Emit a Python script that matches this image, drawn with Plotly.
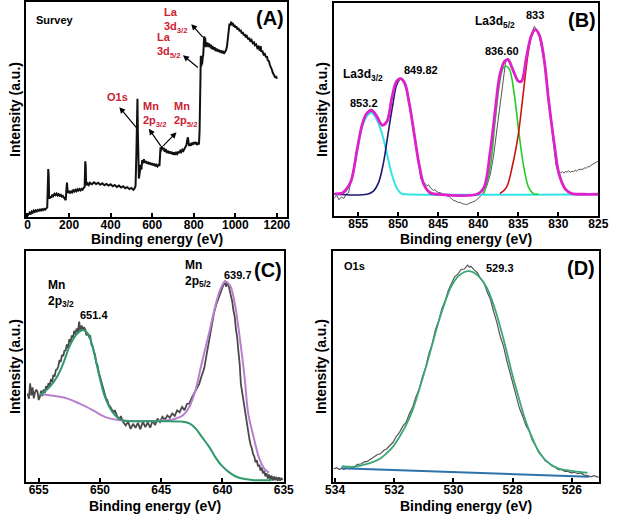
import plotly.graph_objects as go

# ---------------- Panel A: survey ----------------
survey_ev = [0, 5, 10, 15, 20, 25, 30, 35, 40, 45, 50, 55, 60, 65, 70, 75, 80, 85, 90, 95, 98, 100, 102, 104, 106,
             110, 115, 120, 125, 130, 135, 140, 145, 150, 155, 160, 165, 170, 175, 180, 184, 187, 190, 192, 195,
             200, 205, 210, 215, 220, 225, 230, 235, 240, 245, 250, 255, 260, 265, 270, 275, 278, 280, 282, 285,
             290, 295, 300, 310, 320, 330, 340, 350, 360, 370, 380, 390, 400, 410, 420, 430, 440, 450, 460, 470,
             480, 490, 500, 510, 515, 520, 524, 527, 529, 531, 533, 536, 540, 544, 548, 552, 556, 560, 565, 570,
             575, 580, 585, 590, 595, 600, 605, 610, 615, 620, 625, 630, 635, 638, 640, 643, 646, 650, 655, 660,
             665, 670, 675, 680, 685, 690, 695, 700, 705, 710, 715, 720, 725, 730, 735, 740, 745, 750, 755, 760,
             765, 768, 772, 775, 778, 782, 786, 790, 795, 800, 805, 810, 815, 820, 825, 828, 830, 832, 834, 836,
             838, 840, 843, 846, 848, 850, 852, 855, 858, 861, 865, 870, 874, 878, 882, 886, 890, 895, 900, 905,
             910, 915, 920, 925, 930, 935, 940, 945, 950, 955, 960, 965, 968, 972, 976, 980, 984, 988, 992, 996,
             1000, 1005, 1010, 1015, 1020, 1025, 1031, 1036, 1040, 1045, 1050, 1055, 1062, 1068, 1072, 1078, 1084,
             1090, 1094, 1100, 1106, 1112, 1118, 1122, 1125, 1130, 1136, 1142, 1148, 1152, 1156, 1162, 1166, 1172,
             1176, 1180, 1185, 1188, 1192, 1196, 1200]
survey_int = [0.5, 1.5, 2.0, 1.2, 2.5, 2.0, 3.0, 2.4, 3.1, 2.6, 3.3, 2.9, 3.5, 3.0, 3.6, 3.2, 3.8, 3.4, 4.2, 4.5, 15.0, 22.3, 19.0, 9.5, 8.5,
              9.6, 9.0, 10.4, 9.8, 10.8, 10.2, 10.9, 10.0, 10.6, 9.9, 10.3, 9.5, 9.8, 8.9, 8.2, 7.8, 12.5, 16.0, 13.0, 11.2,
              11.8, 11.0, 12.2, 11.5, 12.4, 11.8, 12.6, 12.0, 12.9, 12.3, 13.0, 12.4, 13.1, 12.7, 13.5, 14.0, 25.9, 24.0, 16.0, 14.8,
              15.6, 14.9, 15.9, 15.2, 16.1, 15.3, 15.9, 15.0, 15.7, 14.8, 15.4, 14.6, 15.2, 14.3, 14.9, 14.0, 14.6, 13.7, 14.3, 13.4,
              13.9, 13.0, 13.5, 12.6, 13.2, 14.5, 30.0, 48.0, 55.0, 40.0, 22.0, 17.9, 20.5, 24.2, 22.0, 26.5, 25.0, 26.9, 25.2, 26.0,
              24.8, 25.6, 24.5, 25.3, 24.2, 25.0, 24.0, 24.8, 23.6, 24.3, 23.5, 24.2, 23.8, 31.0, 32.4, 30.5, 33.0, 31.5, 32.2, 30.4,
              31.6, 29.8, 30.9, 29.6, 30.5, 29.4, 30.3, 29.0, 30.1, 28.9, 29.9, 29.3, 30.4, 29.7, 30.8, 30.2, 31.3, 30.7, 31.9, 32.4,
              33.5, 35.5, 37.1, 34.5, 33.0, 34.2, 33.1, 34.5, 33.6, 34.8, 33.9, 34.9, 33.5, 34.3, 33.8, 40.0, 52.0, 64.0, 75.0, 70.0,
              72.0, 71.0, 74.0, 76.0, 80.0, 84.0, 82.0, 83.5, 79.0, 80.5, 81.2, 79.0, 80.7, 78.9, 80.2, 78.1, 79.5, 77.8, 79.0, 77.2,
              78.3, 77.0, 77.9, 76.6, 77.5, 76.2, 77.3, 76.0, 76.8, 77.5, 79.5, 83.0, 87.0, 90.0, 89.0, 90.8, 89.3, 90.2, 88.6, 89.4,
              88.0, 88.7, 87.3, 87.9, 86.4, 87.0, 85.4, 86.0, 84.5, 85.1, 83.6, 84.2, 82.8, 83.0, 81.6, 82.3, 80.8,
              81.2, 79.9, 80.3, 78.6, 79.2, 77.3, 79.5, 76.8, 77.4, 75.6, 75.9, 74.2, 74.8, 72.9, 72.4, 70.8, 69.8,
              68.5, 67.2, 66.4, 65.9, 64.8, 65.5, 64.3]

# ---------------- Panel B: La 3d ----------------
b_raw_ev = [858.0, 857.7, 857.4, 857.1, 856.8, 856.5, 856.2, 855.9, 855.5, 855.1, 854.7, 854.3, 853.9, 853.5, 853.2, 852.9,
            852.6, 852.3, 852.0, 851.7, 851.4, 851.1, 850.8, 850.5, 850.2, 849.9, 849.6, 849.3, 849.0, 848.6, 848.3, 848.0,
            847.7, 847.4, 847.2, 847.0, 846.8, 846.6, 846.4, 846.2, 846.0, 845.8, 845.6, 845.4, 845.2, 845.0, 844.7, 844.4,
            844.1, 843.9, 843.6, 843.3, 843.1, 842.8, 842.5, 842.3, 842.0, 841.7, 841.5, 841.2, 841.0, 840.7, 840.4, 840.1,
            839.8, 839.5, 839.2, 838.9, 838.5, 838.1, 837.8, 837.5, 837.2, 836.9, 836.6, 836.3, 836.0, 835.7, 835.4, 835.1,
            834.8, 834.5, 834.2, 833.9, 833.6, 833.3, 833.0, 832.7, 832.4, 832.1, 831.8, 831.5, 831.2, 830.9, 830.6, 830.3,
            830.1, 829.9, 829.7, 829.5, 829.3, 829.1, 828.9, 828.7, 828.5, 828.3, 828.1, 827.9, 827.7, 827.5, 827.3, 827.1,
            826.9, 826.7, 826.5, 826.3, 826.1, 825.9, 825.7, 825.5, 825.2, 825.0]
b_raw_int = [8.5, 9.6, 7.6, 9.0, 8.2, 10.3, 11.0, 16.0, 24.0, 32.5, 40.0, 45.5, 48.5, 50.2, 50.0, 48.0,
             45.5, 43.8, 42.0, 43.3, 45.0, 50.0, 55.5, 60.0, 63.0, 64.8, 64.0, 62.5, 59.0, 52.0, 45.5, 38.0,
             31.0, 24.5, 17.5, 16.8, 15.8, 15.0, 14.2, 14.6, 13.3, 12.8, 12.0, 12.4, 11.4, 11.1, 10.9, 10.2,
             10.0, 9.4, 9.0, 8.0, 7.3, 7.0, 6.3, 6.5, 5.8, 5.6, 5.3, 5.8, 6.2, 6.6, 7.0, 7.8,
             9.0, 10.3, 12.0, 14.5, 19.5, 28.0, 37.0, 46.0, 55.0, 65.0, 72.0, 74.2, 72.5, 69.0, 65.5, 63.2,
             62.6, 64.5, 69.0, 76.0, 82.0, 86.0, 89.0, 87.5, 84.5, 79.0, 73.0, 64.0, 54.0, 43.0, 33.0, 24.0,
             21.5, 21.0, 20.2, 20.9, 20.1, 20.9, 20.6, 21.3, 20.5, 21.0, 20.8, 21.5, 21.0, 21.8, 21.9, 22.2,
             22.0, 22.6, 22.5, 23.2, 23.0, 23.9, 24.4, 24.6, 25.3, 25.8]

b_env_ev = [858.0, 857.0, 856.5, 855.9, 855.1, 854.5, 853.9, 853.3, 852.7, 852.0, 851.4, 850.8, 850.2, 849.7, 849.2,
            848.6, 848.0, 847.4, 846.8, 846.0, 845.0, 840.1, 839.3, 838.5, 837.9, 837.3, 836.7, 836.3, 835.7, 835.0,
            834.6, 834.0, 833.4, 832.9, 832.4, 831.8, 831.2, 830.5, 829.9, 829.1, 828.3, 827.0, 825.0]
b_env_int = [10.4, 10.8, 12.5, 16.4, 32.0, 43.0, 48.4, 49.5, 46.9, 42.7, 44.5, 55.5, 63.3, 64.5, 62.5,
             52.3, 38.3, 24.2, 14.8, 10.9, 10.2, 10.3, 13.3, 30.5, 49.2, 66.4, 72.7, 73.4, 68.8, 63.3,
             63.3, 74.2, 84.4, 87.5, 85.2, 74.2, 53.9, 33.6, 19.5, 12.5, 10.5, 10.2, 10.2]

b_cyan_ev = [858.0, 857.0, 856.5, 855.9, 855.1, 854.5, 853.8, 853.3, 852.7, 852.0, 851.4, 850.8, 850.2, 849.6, 849.0, 825.0]
b_cyan_int = [10.2, 10.4, 12.0, 16.0, 31.5, 42.0, 47.5, 48.5, 45.3, 38.3, 29.0, 19.5, 13.3, 10.5, 10.2, 10.2]

b_navy_ev = [858.0, 853.9, 853.1, 852.5, 851.9, 851.3, 850.7, 850.2, 849.7, 849.2, 848.6, 848.0, 847.4, 846.8, 846.0, 845.0]
b_navy_int = [10.2, 10.2, 11.7, 15.3, 24.0, 38.0, 52.0, 61.5, 64.5, 62.5, 52.3, 38.3, 24.2, 14.8, 10.5, 10.2]

b_green_ev = [839.3, 838.5, 837.9, 837.3, 836.9, 836.5, 836.1, 835.5, 834.9, 834.3, 833.7, 833.1, 832.5]
b_green_int = [10.5, 22.7, 44.5, 63.3, 69.5, 70.3, 68.8, 57.0, 38.3, 22.7, 13.3, 10.5, 10.2]

b_red_ev = [837.3, 836.5, 835.7, 835.0, 834.4, 833.8, 833.3, 832.9, 832.4, 831.8, 831.2, 830.5, 829.9, 829.1, 828.3]
b_red_int = [10.5, 13.3, 24.2, 38.3, 57.0, 75.8, 85.2, 87.5, 85.2, 74.2, 53.9, 33.6, 19.5, 12.5, 10.5]

# ---------------- Panel C: Mn 2p ----------------
c_raw_ev = [655.9, 655.8, 655.7, 655.6, 655.5, 655.4, 655.3, 655.2, 655.1, 655.0, 654.9, 654.8, 654.7, 654.6, 654.5,
            654.4, 654.3, 654.2, 654.1, 654.0, 653.9, 653.8, 653.7, 653.6, 653.5, 653.4, 653.3, 653.2, 653.1, 653.0,
            652.9, 652.8, 652.7, 652.6, 652.5, 652.4, 652.3, 652.2, 652.1, 652.0, 651.9, 651.8, 651.7, 651.6, 651.5,
            651.4, 651.3, 651.2, 651.1, 651.0, 650.9, 650.8, 650.7, 650.6, 650.5, 650.4, 650.3, 650.2, 650.1, 650.0,
            649.9, 649.8, 649.7, 649.6, 649.5, 649.4, 649.3, 649.1, 648.9, 648.8, 648.6, 648.4, 648.3, 648.1, 647.9,
            647.7, 647.5, 647.3, 647.1, 646.9, 646.7, 646.5, 646.3, 646.1, 645.9, 645.7, 645.5, 645.3, 645.1, 644.9,
            644.7, 644.5, 644.3, 644.1, 643.9, 643.7, 643.5, 643.3, 643.1, 642.9, 642.7, 642.5, 642.3, 642.1, 641.9,
            641.7, 641.5, 641.3, 641.1, 640.9, 640.7, 640.5, 640.3, 640.1, 639.9, 639.8, 639.7, 639.6, 639.5, 639.4,
            639.3, 639.2, 639.1, 639.0, 638.9, 638.8, 638.7, 638.6, 638.5, 638.4, 638.3, 638.2, 638.1, 638.0, 637.9,
            637.8, 637.7, 637.6, 637.5, 637.4, 637.3, 637.2, 637.1, 637.0, 636.9, 636.8, 636.7, 636.6, 636.5, 636.4,
            636.3, 636.2, 636.1, 636.0, 635.9, 635.8, 635.7, 635.6, 635.5, 635.4, 635.3, 635.2, 635.1]
c_raw_int = [38.3, 36.0, 42.7, 37.5, 41.0, 36.2, 38.8, 40.0, 39.1, 35.5, 36.9, 39.5, 37.2, 40.0, 38.5,
             41.5, 40.2, 42.8, 41.6, 44.5, 43.4, 46.5, 45.6, 48.5, 48.8, 50.0, 52.8, 52.0, 55.0, 54.5,
             56.8, 57.0, 59.5, 58.0, 61.8, 60.5, 63.5, 62.5, 65.5, 64.0, 66.5, 64.8, 69.4, 65.0, 67.8,
             65.8, 67.0, 66.0, 63.5, 64.3, 62.9, 63.5, 59.5, 58.8, 56.5, 55.0, 51.5, 50.5, 47.5, 45.6,
             44.0, 41.2, 40.0, 38.3, 36.0, 35.5, 33.5, 32.0, 30.0, 31.1, 28.5, 27.0, 28.5, 25.8, 24.5,
             26.1, 23.0, 25.2, 23.5, 25.6, 22.8, 26.1, 23.8, 25.8, 23.5, 26.5, 24.6, 27.5, 26.0, 28.2,
             27.0, 28.8, 27.8, 29.7, 28.6, 31.0, 30.2, 32.5, 31.1, 33.8, 34.0, 36.5, 38.3, 40.5, 42.5,
             46.0, 49.0, 55.0, 61.0, 68.0, 73.0, 77.0, 80.0, 83.0, 85.5, 87.1, 84.5, 86.5, 85.0, 83.0,
             80.2, 78.0, 74.0, 71.5, 66.0, 62.5, 56.5, 51.3, 42.5, 39.0, 35.0, 31.0, 27.5, 23.5, 21.0,
             18.5, 16.0, 14.5, 12.0, 11.0, 8.5, 9.5, 6.8, 7.5, 5.0, 6.2, 3.8, 4.8, 2.5, 3.8,
             1.5, 3.2, 1.0, 2.8, 0.6, 2.4, 0.8, 2.2, 0.5, 2.0, 0.6, 1.8, 0.8]

c_green_ev = [654.9, 654.1, 653.5, 653.0, 652.5, 651.96, 651.4, 651.0, 650.6, 650.1, 649.6, 649.0, 648.5, 648.0,
              646.0, 643.2, 642.7, 642.2, 641.7, 641.1, 640.6, 640.1, 639.5, 639.0, 638.5, 637.4, 636.3, 636.0]
c_green_int = [37.6, 41.2, 45.6, 51.3, 58.5, 63.6, 65.8, 64.3, 58.5, 47.0, 36.9, 30.4, 27.5, 26.5,
               26.3, 26.1, 25.4, 23.2, 19.6, 15.3, 10.9, 7.3, 4.4, 2.6, 1.6, 0.8, 0.8, 0.8]

c_purple_ev = [654.9, 653.8, 652.7, 651.7, 650.6, 649.6, 648.5, 647.5, 645.9, 644.3, 643.8, 643.2, 642.7, 642.2,
               641.7, 641.1, 640.6, 640.2, 639.8, 639.4, 639.0, 638.6, 638.2, 637.9, 637.4, 637.0, 636.6, 636.2]
c_purple_int = [38.1, 37.3, 36.2, 34.0, 31.1, 28.2, 26.8, 26.4, 26.4, 26.8, 27.5, 29.0, 32.6, 39.8,
                51.3, 64.3, 75.9, 83.1, 86.7, 85.2, 77.3, 62.9, 45.6, 29.7, 18.1, 10.2, 5.9, 4.0]

# ---------------- Panel D: O 1s ----------------
d_raw_ev = [534.05, 533.95, 533.85, 533.78, 533.7, 533.6, 533.5, 533.45, 533.35, 533.25, 533.13, 533.0, 532.91, 532.8,
            532.69, 532.58, 532.47, 532.36, 532.26, 532.15, 532.04, 531.93, 531.82, 531.71, 531.6, 531.49, 531.38, 531.27,
            531.16, 531.05, 530.94, 530.83, 530.72, 530.61, 530.5, 530.39, 530.28, 530.17, 530.07, 529.96, 529.85, 529.74,
            529.63, 529.55, 529.52, 529.46, 529.41, 529.3, 529.19, 529.08, 528.97, 528.86, 528.75, 528.64, 528.53, 528.42,
            528.31, 528.2, 528.1, 527.99, 527.88, 527.77, 527.66, 527.55, 527.44, 527.33, 527.22, 527.11, 527.0, 526.89,
            526.78, 526.67, 526.56, 526.46, 526.35, 526.24, 526.13, 526.02, 525.91, 525.8, 525.69, 525.58, 525.47, 525.36,
            525.25, 525.15, 525.09]
d_raw_int = [5.6, 6.2, 5.4, 6.0, 5.5, 6.1, 5.7, 6.5, 6.3, 7.6, 7.8, 8.7, 8.9, 10.0,
             10.7, 11.8, 12.2, 13.6, 14.3, 16.0, 17.2, 19.8, 21.5, 24.2, 25.8, 29.5, 32.3, 36.8,
             40.2, 45.5, 49.6, 55.5, 59.7, 65.8, 69.8, 75.0, 78.5, 83.0, 85.7, 88.8, 90.0, 92.0,
             92.2, 93.7, 93.9, 93.0, 93.4, 91.8, 90.6, 88.0, 86.3, 82.2, 79.1, 73.7, 69.0, 63.1,
             58.8, 52.7, 48.0, 42.0, 37.2, 32.0, 28.5, 24.5, 22.1, 18.0, 15.6, 12.6, 11.2, 9.1,
             8.3, 6.9, 6.5, 5.4, 5.4, 4.6, 4.6, 4.0, 4.2, 3.6, 3.9, 3.0, 2.8, 2.2,
             2.7, 2.1, 2.0]

d_fit_ev = [533.78, 533.35, 532.91, 532.69, 532.47, 532.26, 532.04, 531.82, 531.6, 531.38, 531.16, 530.94, 530.72,
            530.5, 530.28, 530.07, 529.85, 529.63, 529.46, 529.3, 529.08, 528.86, 528.64, 528.42, 528.2, 527.99, 527.77,
            527.55, 527.33, 527.11, 526.89, 526.67, 526.46, 526.24, 525.91, 525.47]
d_fit_int = [6.9, 6.6, 7.8, 8.8, 10.2, 12.4, 15.3, 19.6, 24.6, 31.1, 39.8, 49.2, 59.3,
             69.4, 78.0, 84.8, 88.9, 90.9, 91.3, 90.6, 88.1, 83.8, 76.6, 67.2, 56.4, 45.6, 35.5,
             26.1, 18.9, 13.1, 9.5, 7.3, 5.9, 5.2, 4.6, 4.0]

d_base_ev = [533.78, 525.42]
d_base_int = [5.9, 2.3]

# ---------------- figure ----------------
FONT = "Liberation Sans"
fig = go.Figure()


def add(x, y, ax, color, width, shape="linear"):
    fig.add_trace(go.Scatter(x=x, y=y, xaxis="x" + ax, yaxis="y" + ax, mode="lines",
                             line=dict(color=color, width=width, shape=shape),
                             hoverinfo="skip", showlegend=False))


add(survey_ev, survey_int, "", "#111111", 2.0)

add(b_raw_ev, b_raw_int, "2", "#555555", 1.0)
add(b_cyan_ev, b_cyan_int, "2", "#33e3e3", 2.0, "spline")
add(b_navy_ev, b_navy_int, "2", "#1b1b70", 1.6, "spline")
add(b_green_ev, b_green_int, "2", "#22cc22", 1.6, "spline")
add(b_red_ev, b_red_int, "2", "#cc1111", 1.6, "spline")
add(b_env_ev, b_env_int, "2", "#dd22cc", 2.8, "spline")

add(c_raw_ev, c_raw_int, "3", "#4a4a4a", 1.8)
add(c_purple_ev, c_purple_int, "3", "#b87fcf", 2.0, "spline")
add(c_green_ev, c_green_int, "3", "#2e9a6a", 2.0, "spline")

add(d_raw_ev, d_raw_int, "4", "#555555", 1.2)
add(d_base_ev, d_base_int, "4", "#2d72a8", 2.0)
add(d_fit_ev, d_fit_int, "4", "#3aa874", 1.8, "spline")


def xax(domain, rng, tickvals):
    return dict(domain=domain, range=rng, tickvals=tickvals, showline=True, linecolor="black", linewidth=2,
                mirror=True, ticks="inside", ticklen=4, tickwidth=1.5, tickcolor="black", showgrid=False,
                zeroline=False, ticklabelstandoff=-4,
                tickfont=dict(family=FONT, size=12, color="black", weight="bold"))


def yax(domain, anchor):
    return dict(domain=domain, range=[0, 100], anchor=anchor, showline=True, linecolor="black", linewidth=2,
                mirror=True, ticks="", showticklabels=False, showgrid=False, zeroline=False,
                title=dict(text="Intensity (a.u.)", standoff=1,
                           font=dict(family=FONT, size=14, color="black", weight="bold")))


DOM_A = [19 / 620, 287 / 620]
DOM_B = [336 / 620, 608 / 620]
DOM_C = [19 / 620, 284 / 620]
DOM_D = [335 / 620, 609 / 620]

fig.update_layout(
    width=620, height=516, margin=dict(l=0, r=0, t=0, b=0),
    paper_bgcolor="white", plot_bgcolor="white",
    xaxis=dict(xax(DOM_A, [-5, 1247], [0, 200, 400, 600, 800, 1000, 1200]), anchor="y"),
    yaxis=yax([1 - 217 / 516, 1 - 2 / 516], "x"),
    xaxis2=dict(xax(DOM_B, [858, 825], [855, 850, 845, 840, 835, 830, 825]), anchor="y2"),
    yaxis2=yax([1 - 216 / 516, 1 - 3 / 516], "x2"),
    xaxis3=dict(xax(DOM_C, [656, 635], [655, 650, 645, 640, 635]), anchor="y3"),
    yaxis3=yax([1 - 482 / 516, 1 - 251 / 516], "x3"),
    xaxis4=dict(xax(DOM_D, [534.06, 525.07], [534, 532, 530, 528, 526]), anchor="y4"),
    yaxis4=yax([1 - 482 / 516, 1 - 251 / 516], "x4"),
)

# x-axis titles
for dom, py in [(DOM_A, 239), (DOM_B, 239), (DOM_C, 506), (DOM_D, 506)]:
    fig.add_annotation(xref="paper", yref="paper", x=(dom[0] + dom[1]) / 2, y=1 - py / 516,
                       text="Binding energy (eV)", showarrow=False, xanchor="center", yanchor="middle",
                       font=dict(family=FONT, size=14, color="black", weight="bold"))

RED = "#cc2233"


def txt(ax, x, y, text, size=11, color="black", xanchor="center"):
    fig.add_annotation(xref="x" + ax, yref="y" + ax, x=x, y=y, text=text, showarrow=False,
                       xanchor=xanchor, yanchor="middle", align="left",
                       font=dict(family=FONT, size=size, color=color, weight="bold"))


def arrow(ax, x, y, tx, ty):
    fig.add_annotation(xref="x" + ax, yref="y" + ax, axref="x" + ax, ayref="y" + ax,
                       x=x, y=y, ax=tx, ay=ty, text="", showarrow=True,
                       arrowhead=2, arrowsize=1, arrowwidth=1.2, arrowcolor="black")


# Panel A labels
txt("", 31, 91.6, "Survey", 11, xanchor="left")
txt("", 1165, 92.4, "(A)", 20)
txt("", 372, 55.8, "O1s", 11, RED, "left")
txt("", 548, 47.8, "Mn<br>2p<sub>3/2</sub>", 11, RED, "left")
txt("", 693, 47.8, "Mn<br>2p<sub>5/2</sub>", 11, RED, "left")
txt("", 646, 91.6, "La<br>3d<sub>3/2</sub>", 11, RED, "left")
txt("", 615, 80.0, "La<br>3d<sub>5/2</sub>", 11, RED, "left")
arrow("", 442, 51.1, 529, 41.0)
arrow("", 584, 41.0, 646, 32.4)
arrow("", 717, 39.4, 646, 32.4)
arrow("", 748, 75.2, 827, 69.0)
arrow("", 788, 89.7, 850, 83.0)

# Panel B labels
txt("2", 857.1, 66.1, "La3d<sub>3/2</sub>", 12, xanchor="left")
txt("2", 854.3, 53.1, "853.2", 11)
txt("2", 847.2, 68.4, "849.82", 11)
txt("2", 837.0, 77.3, "836.60", 11)
txt("2", 840.7, 91.1, "La3d<sub>5/2</sub>", 12, xanchor="left")
txt("2", 832.9, 94.2, "833", 11)
txt("2", 827.1, 92.2, "(B)", 20)

# Panel C labels
txt("3", 654.4, 81.7, "Mn<br>2p<sub>3/2</sub>", 12, xanchor="left")
txt("3", 650.5, 72.3, "651.4", 11)
txt("3", 643.2, 90.3, "Mn<br>2p<sub>5/2</sub>", 12, xanchor="left")
txt("3", 638.7, 89.6, "639.7", 11)
txt("3", 636.3, 91.7, "(C)", 20)

# Panel D labels
txt("4", 533.34, 93.5, "O1s", 11)
txt("4", 528.43, 92.5, "529.3", 11)
txt("4", 525.7, 92.5, "(D)", 20)

fig.write_html("out.html")
